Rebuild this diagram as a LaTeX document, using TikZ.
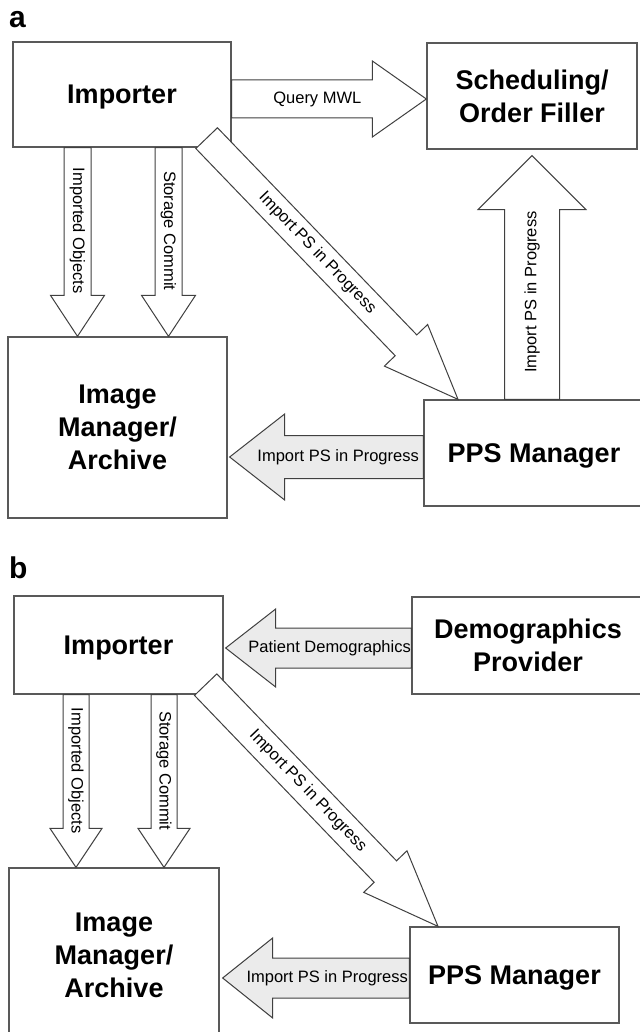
\documentclass[tikz,border=0pt]{standalone}
\usepackage{fontspec}
\setmainfont{Liberation Sans}
\usetikzlibrary{calc}

\tikzset{
	actor/.style = {draw = black!65, line width = 1.3pt, fill = white, inner sep = 0pt, align = center,
		text depth = 0pt, font = \fontsize{27}{33}\selectfont\bfseries},
	arrowline/.style = {draw = black!75, line width = 1pt, line join = miter},
	flowtext/.style = {inner sep = 0pt, font = \fontsize{16.5}{19}\selectfont},
	panel/.style = {anchor = base west, inner sep = 0pt, font = \fontsize{30}{30}\selectfont\bfseries}
}

% block arrow: tail, tip, shaft half width, head half width, head length, fill, label angle, label
\newcommand{\fatarrow}[8]{%
	\coordinate (fa-tail) at (#1);
	\coordinate (fa-tip) at (#2);
	\coordinate (fa-base) at ($(fa-tip)!#5!(fa-tail)$);
	\draw [arrowline, fill = #6] ($(fa-tail)!#3!90:(fa-tip)$) -- ($(fa-base)!#3!-90:(fa-tail)$)
		-- ($(fa-base)!#4!-90:(fa-tail)$) -- (fa-tip) -- ($(fa-base)!#4!90:(fa-tail)$)
		-- ($(fa-base)!#3!90:(fa-tail)$) -- ($(fa-tail)!#3!-90:(fa-tip)$) -- cycle;
	\node [flowtext, rotate = #7] at ($(fa-tail)!0.44!(fa-tip)$) {#8};
}

\colorlet{headgray}{black!8}

\begin{document}
\begin{tikzpicture}[x = 1pt, y = -1pt]

	\useasboundingbox (0, 0) rectangle (639, 1032);

	% Panel a: actors
	
	\node [panel] (labela) at (9, 28) {a};
	
	\node [actor, minimum width = 218pt, minimum height = 105pt] (imp) at (122, 94.5) {Importer};
	\node [actor, minimum width = 210pt, minimum height = 106pt] (sched) at (532, 96) {Scheduling/\\Order Filler};
	\node [actor, minimum width = 219pt, minimum height = 181pt] (arch) at (117.5, 427.5) {Image\\Manager/\\Archive};
	\node [actor, minimum width = 220pt, minimum height = 106pt] (pps) at (534, 453) {PPS Manager};
	
	% Panel a: transactions
	
	\fatarrow{imp.east |- 0,99}{sched.west |- 0,99}{19pt}{38pt}{54pt}{white}{0}{Query MWL}
	\fatarrow{77.5,0 |- imp.south}{77.5,0 |- arch.north}{13.5pt}{27pt}{41pt}{white}{-90}{Imported Objects}
	\fatarrow{168.5,0 |- imp.south}{168.5,0 |- arch.north}{13.5pt}{27pt}{41pt}{white}{-90}{Storage Commit}
	\fatarrow{$(imp.south east) + (-25, -9.5)$}{458,0 |- pps.north}{15pt}{30pt}{75pt}{white}{-46.2}{Import PS in Progress}
	\fatarrow{532,0 |- pps.north}{$(532,0 |- sched.south) + (0, 6)$}{27.5pt}{54pt}{54pt}{white}{90}{Import PS in Progress}
	\fatarrow{pps.west |- 0,457}{$(arch.east |- 0,457) + (2, 0)$}{21.5pt}{43pt}{55pt}{headgray}{0}{Import PS in Progress}
	
	% Panel b: actors
	
	\node [panel] (labelb) at (9, 578) {b};
	
	\node [actor, minimum width = 209pt, minimum height = 98pt] (impb) at (118.5, 645) {Importer};
	\node [actor, minimum width = 232pt, minimum height = 97pt] (demo) at (528, 645.5) {Demographics\\Provider};
	\node [actor, minimum width = 210pt, minimum height = 174pt] (archb) at (114, 955) {Image\\Manager/\\Archive};
	\node [actor, minimum width = 209pt, minimum height = 96pt] (ppsb) at (514.5, 975) {PPS Manager};
	
	% Panel b: transactions
	
	\fatarrow{demo.west |- 0,648}{$(impb.east |- 0,648) + (2, 0)$}{20pt}{39pt}{50pt}{headgray}{0}{Patient Demographics}
	\fatarrow{76,0 |- impb.south}{76,0 |- archb.north}{13pt}{26pt}{39pt}{white}{-90}{Imported Objects}
	\fatarrow{164,0 |- impb.south}{164,0 |- archb.north}{13pt}{26pt}{39pt}{white}{-90}{Storage Commit}
	\fatarrow{$(impb.south east) + (-18, -10)$}{438,0 |- ppsb.north}{15.5pt}{30pt}{76pt}{white}{-46.2}{Import PS in Progress}
	\fatarrow{ppsb.west |- 0,978}{$(archb.east |- 0,978) + (3, 0)$}{20pt}{40pt}{50pt}{headgray}{0}{Import PS in Progress}
	
\end{tikzpicture}
\end{document}
